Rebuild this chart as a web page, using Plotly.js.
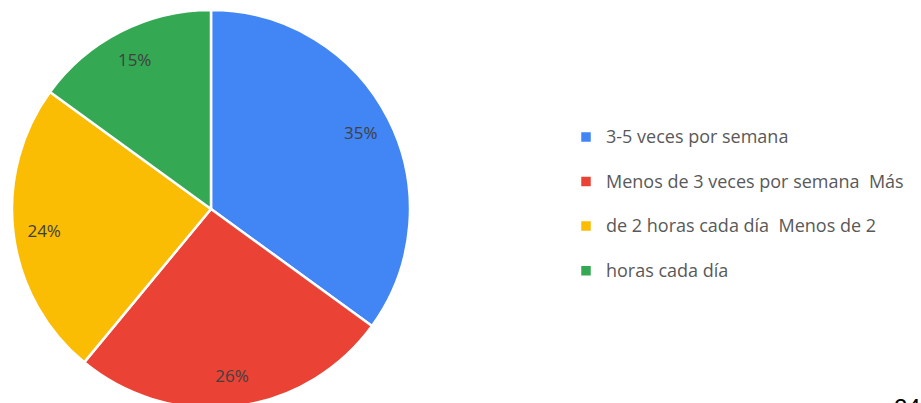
<!DOCTYPE html>
<html>
<head>
<meta charset="utf-8">
<script src="https://cdn.plot.ly/plotly-3.0.1.min.js"></script>
<style>
  html, body { margin: 0; padding: 0; overflow: hidden; background: #fff; }
  #chart { width: 921px; height: 420px; }
</style>
</head>
<body>
<div id="chart"></div>
<script>
    // Slice labels (as in the source legend, line breaks and all)
    const labels = [
        '3-5 veces por semana',
        'Menos de 3 veces por semana  Más',
        'de 2 horas cada día  Menos de 2',
        'horas cada día'
    ];
    const values = [35, 26, 24, 15];
    const colors = ['#4285F4', '#EA4335', '#FBBC04', '#34A853'];
    const pageNumber = '24';

    const W = 921, H = 420;
    const pieDomain = { x: [12 / W, 410 / W], y: [12 / H, 410 / H] };

    // the coloured pie, no text
    const pie = {
        type: 'pie',
        // trailing blank line makes each legend row taller, like the original
        labels: labels.map(l => '<span style="font-size:18px">' + l + '</span><br> '),
        values: values,
        sort: false,
        direction: 'clockwise',
        rotation: 0,
        marker: { colors: colors, line: { color: '#ffffff', width: 2.5 } },
        textinfo: 'none',
        hoverinfo: 'none',
        domain: pieDomain
    };

    // transparent ring on top, only to push the % labels out toward the rim
    const ring = {
        type: 'pie',
        labels: labels,
        values: values,
        sort: false,
        direction: 'clockwise',
        rotation: 0,
        hole: 0.69,
        marker: { colors: colors.map(() => 'rgba(0,0,0,0)'), line: { width: 0 } },
        textinfo: 'percent',
        textposition: 'inside',
        insidetextorientation: 'horizontal',
        insidetextfont: { family: 'Open Sans, sans-serif', size: 17, color: '#404040' },
        showlegend: false,
        hoverinfo: 'none',
        domain: pieDomain
    };

    const layout = {
        width: W,
        height: H,
        margin: { t: 0, b: 0, l: 0, r: 0 },
        paper_bgcolor: '#ffffff',
        showlegend: true,
        legend: {
            x: 566 / W,
            xanchor: 'left',
            y: 1 - 120 / H,
            yanchor: 'top',
            valign: 'top',
            font: { family: 'Open Sans, sans-serif', size: 16, color: '#595959' },
            bgcolor: 'rgba(0,0,0,0)'
        },
        annotations: [{
            text: pageNumber,
            xref: 'paper', yref: 'paper',
            x: 907 / W, y: 1 - 392 / H,
            xanchor: 'center', yanchor: 'top',
            showarrow: false,
            font: { family: 'Liberation Sans, sans-serif', size: 24, color: '#000000' }
        }]
    };

    Plotly.newPlot('chart', [pie, ring], layout, { displayModeBar: false, staticPlot: true });
</script>
</body>
</html>
